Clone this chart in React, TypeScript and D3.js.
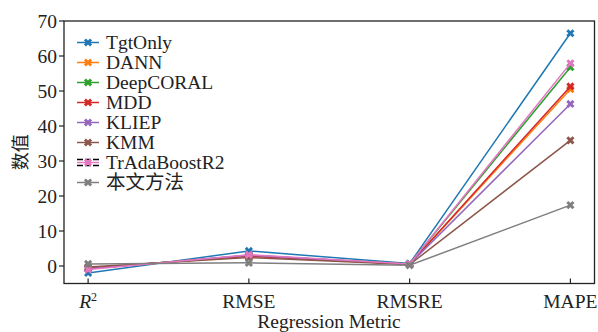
import React, { useEffect, useRef } from "react";
import * as d3 from "d3";

const metrics = ["R2", "RMSE", "RMSRE", "MAPE"];
const methods = ["TgtOnly", "DANN", "DeepCORAL", "MDD", "KLIEP", "KMM", "TrAdaBoostR2", "本文方法"];
const colors = ["#1f77b4", "#ff7f0e", "#2ca02c", "#d62728", "#9467bd", "#8c564b", "#e377c2", "#7f7f7f"];

const tgtOnly = [-2.0, 4.3, 0.7, 66.5];
const dann = [-0.8, 3.0, 0.5, 50.5];
const deepCoral = [-0.7, 3.0, 0.6, 56.8];
const mdd = [-0.6, 2.8, 0.5, 51.3];
const kliep = [-0.8, 3.1, 0.5, 46.3];
const kmm = [-0.3, 2.4, 0.4, 35.9];
const trAda = [-1.0, 3.2, 0.6, 57.9];
const ours = [0.6, 0.9, 0.2, 17.4];

const series = [tgtOnly, dann, deepCoral, mdd, kliep, kmm, trAda, ours];
const yTicks = [0, 10, 20, 30, 40, 50, 60, 70];

export default function App() {
  const ref = useRef<SVGSVGElement>(null);

  useEffect(() => {
    const svg = d3.select(ref.current);
    svg.selectAll("*").remove();

    const left = 64, right = 594.5, top = 21, bottom = 283.5;
    const font = '"Liberation Serif", "DejaVu Serif", serif';
    const fs = 19.5;

    const x = d3.scaleLinear().domain([-0.15, 3.15]).range([left, right]);
    const y = d3.scaleLinear().domain([-5, 70]).range([bottom, top]);

    // y axis ticks (outward)
    const yAxis = svg.append("g");
    yTicks.forEach(t => {
      yAxis.append("line")
        .attr("x1", left - 5).attr("x2", left)
        .attr("y1", y(t)).attr("y2", y(t))
        .attr("stroke", "#222").attr("stroke-width", 1.2);
      yAxis.append("text")
        .attr("x", left - 7).attr("y", y(t))
        .attr("dy", "0.35em")
        .attr("text-anchor", "end")
        .attr("font-family", font)
        .attr("font-size", fs)
        .attr("fill", "#222")
        .text(t);
    });

    // x ticks (inward)
    metrics.forEach((m, i) => {
      svg.append("line")
        .attr("x1", x(i)).attr("x2", x(i))
        .attr("y1", bottom - 5).attr("y2", bottom)
        .attr("stroke", "#222").attr("stroke-width", 1.2);
      const t = svg.append("text")
        .attr("x", x(i)).attr("y", 308)
        .attr("text-anchor", "middle")
        .attr("font-family", font)
        .attr("font-size", fs)
        .attr("fill", "#222");
      if (m === "R2") {
        t.append("tspan").attr("font-style", "italic").text("R");
        t.append("tspan").attr("dy", -7).attr("font-size", 12).text("2");
      } else {
        t.text(m);
      }
    });

    const line = d3.line<number>()
      .x((d, i) => x(i))
      .y(d => y(d));

    const marker = d3.symbol().type(d3.symbolCross).size(42);

    series.forEach((vals, k) => {
      svg.append("path")
        .datum(vals)
        .attr("d", line)
        .attr("fill", "none")
        .attr("stroke", colors[k])
        .attr("stroke-width", 1.5);
      vals.forEach((v, i) => {
        svg.append("path")
          .attr("d", marker)
          .attr("transform", `translate(${x(i)},${y(v)}) rotate(45)`)
          .attr("fill", colors[k]);
      });
    });

    // frame
    svg.append("rect")
      .attr("x", left).attr("y", top)
      .attr("width", right - left).attr("height", bottom - top)
      .attr("fill", "none")
      .attr("stroke", "#222")
      .attr("stroke-width", 1.3);

    // legend
    const legend = svg.append("g");
    methods.forEach((name, k) => {
      const ly = 42.5 + k * 20;
      if (name === "TrAdaBoostR2") {
        [-3, 3].forEach(off => {
          legend.append("line")
            .attr("x1", 77).attr("x2", 99)
            .attr("y1", ly + off).attr("y2", ly + off)
            .attr("stroke", "#000").attr("stroke-width", 1.5)
            .attr("stroke-dasharray", "6,2");
        });
      }
      legend.append("line")
        .attr("x1", 77).attr("x2", 99)
        .attr("y1", ly).attr("y2", ly)
        .attr("stroke", colors[k]).attr("stroke-width", 1.5);
      legend.append("path")
        .attr("d", marker)
        .attr("transform", `translate(88,${ly}) rotate(45)`)
        .attr("fill", colors[k]);
      legend.append("text")
        .attr("x", 106).attr("y", ly)
        .attr("dy", "0.35em")
        .attr("font-family", '"Liberation Serif", "DejaVu Serif", "Noto Sans CJK SC", serif')
        .attr("font-size", fs)
        .attr("fill", "#222")
        .text(name);
    });

    svg.append("text")
      .attr("x", 329).attr("y", 328)
      .attr("text-anchor", "middle")
      .attr("font-family", font)
      .attr("font-size", fs)
      .attr("fill", "#222")
      .text("Regression Metric");

    svg.append("text")
      .attr("transform", `translate(27,${(top + bottom) / 2}) rotate(-90)`)
      .attr("text-anchor", "middle")
      .attr("font-family", '"Noto Sans CJK SC", sans-serif')
      .attr("font-size", 18)
      .attr("fill", "#222")
      .text("数值");
  }, []);

  return (
    <svg ref={ref} width={598} height={332}
      style={{ position: "absolute", left: 0, top: 0, background: "#fff" }} />
  );
}
